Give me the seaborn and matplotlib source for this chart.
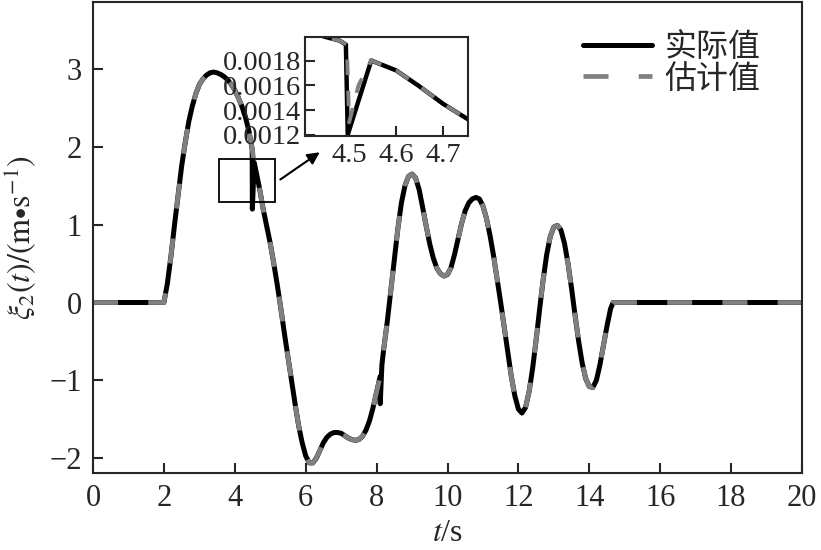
import matplotlib
matplotlib.use("Agg")
import matplotlib.pyplot as plt
import seaborn as sns
import pandas as pd
from matplotlib.patches import Rectangle

# estimated (smooth) curve
t_vals = [0, 2.0, 2.1, 2.2, 2.3, 2.4, 2.5, 2.6, 2.7, 2.8, 2.9, 3.0, 3.1, 3.2, 3.3, 3.4,
          3.5, 3.6, 3.7, 3.8, 3.9, 4.0, 4.1, 4.2, 4.3, 4.4, 4.49, 4.547, 4.6, 4.7, 4.75,
          4.8, 4.9, 5.0, 5.1, 5.2, 5.3, 5.4, 5.5, 5.6, 5.7, 5.8, 5.9, 6.0, 6.1, 6.2,
          6.3, 6.4, 6.5, 6.6, 6.7, 6.8, 6.9, 7.0, 7.1, 7.2, 7.3, 7.4, 7.5, 7.6, 7.7,
          7.8, 7.9, 8.0, 8.1, 8.2, 8.3, 8.4, 8.5, 8.6, 8.7, 8.8, 8.9, 9.0, 9.1, 9.2,
          9.3, 9.4, 9.5, 9.6, 9.7, 9.8, 9.9, 10.0, 10.1, 10.2, 10.3, 10.4, 10.5, 10.6,
          10.7, 10.8, 10.9, 11.0, 11.1, 11.2, 11.3, 11.4, 11.5, 11.6, 11.7, 11.8, 11.9,
          12.0, 12.1, 12.2, 12.3, 12.4, 12.5, 12.6, 12.7, 12.8, 12.9, 13.0, 13.1, 13.2,
          13.3, 13.4, 13.5, 13.6, 13.7, 13.8, 13.9, 14.0, 14.1, 14.2, 14.3, 14.4, 14.5,
          14.6, 14.67, 20.0]
est_vals = [0, 0, 0.25, 0.6, 1.0, 1.38, 1.75, 2.05, 2.32, 2.52, 2.68, 2.8, 2.87, 2.92, 2.95, 2.96,
            2.95, 2.93, 2.9, 2.86, 2.8, 2.73, 2.63, 2.52, 2.38, 2.2, 1.97, 1.8, 1.68, 1.46, 1.33,
            1.2, 0.98, 0.76, 0.5, 0.22, -0.08, -0.4, -0.7, -1.0, -1.3, -1.58, -1.8, -1.97, -2.06, -2.06,
            -2.0, -1.9, -1.8, -1.73, -1.69, -1.67, -1.67, -1.68, -1.71, -1.74, -1.76, -1.77, -1.76, -1.72, -1.64,
            -1.52, -1.35, -1.15, -0.95, -0.6, -0.25, 0.15, 0.55, 0.95, 1.28, 1.5, 1.62, 1.65, 1.6, 1.45,
            1.22, 0.98, 0.75, 0.57, 0.44, 0.37, 0.34, 0.36, 0.45, 0.62, 0.82, 1.02, 1.18, 1.28,
            1.33, 1.35, 1.33, 1.24, 1.08, 0.86, 0.6, 0.3, 0.0, -0.32, -0.64, -0.95, -1.2,
            -1.37, -1.42, -1.35, -1.15, -0.85, -0.48, -0.08, 0.3, 0.62, 0.85, 0.97, 0.99, 0.93,
            0.76, 0.5, 0.18, -0.17, -0.5, -0.78, -0.98, -1.08, -1.09, -1.0, -0.8, -0.55, -0.3,
            -0.08, 0.0, 0.0]

# extra points where the actual curve jumps
glitch_t = [4.495, 8.102, 8.15]
glitch_y = [1.20, -1.30, -0.80]

# zoomed inset values
inset_t = [4.40, 4.45, 4.48, 4.493, 4.497, 4.547, 4.6, 4.65, 4.7, 4.755]
inset_actual = [0.00205, 0.00199, 0.00196, 0.00193, 0.00120, 0.00180, 0.00172, 0.00159, 0.00145, 0.00132]
inset_est_t = [4.40, 4.45, 4.48, 4.495, 4.50, 4.52, 4.547, 4.6, 4.65, 4.7, 4.755]
inset_est = [0.00205, 0.00199, 0.00196, 0.00193, 0.00130, 0.00160, 0.00180, 0.00172, 0.00159, 0.00145, 0.00132]

sns.set_theme(style="ticks")
plt.rcParams["font.family"] = ["Liberation Serif", "Noto Sans CJK SC"]
plt.rcParams["mathtext.fontset"] = "stix"
plt.rcParams["axes.linewidth"] = 1.5

df_est = pd.DataFrame({"t": t_vals, "y": est_vals})
df_act = pd.concat([df_est, pd.DataFrame({"t": glitch_t, "y": glitch_y})]).sort_values("t")

fig = plt.figure(figsize=(8.21, 5.5), dpi=100)
ax = fig.add_axes([93 / 821, 1 - 473 / 550, 709 / 821, 471 / 550])

dash = (5.3, 6.4)
sns.lineplot(data=df_act, x="t", y="y", ax=ax, color="black", lw=3.6, estimator=None,
             label="实际值")
sns.lineplot(data=df_est, x="t", y="y", ax=ax, color="#808080", lw=3.4, estimator=None,
             label="估计值")
ax.lines[1].set_dashes(dash)

ax.set_xlim(0, 20)
ax.set_ylim(-2.19, 3.86)
ax.set_xticks(range(0, 21, 2))
ax.set_yticks([-2, -1, 0, 1, 2, 3])
ax.set_yticklabels(["\u22122", "\u22121", "0", "1", "2", "3"])
ax.tick_params(direction="in", length=7, width=1.5, labelsize=22, pad=8)
ax.set_xlabel("$t$/s", fontsize=23, labelpad=4)
ax.set_ylabel(r"$\xi_2(t)/(\mathrm{m{\bullet}s}^{-1})$", fontsize=23, labelpad=8)

leg = ax.legend(loc="upper left", bbox_to_anchor=(0.651, 0.995), frameon=False,
                fontsize=23, handlelength=2.15, handletextpad=0.4, labelspacing=0.05)
leg.get_lines()[0].set_linewidth(3.6)
leg.get_lines()[1].set_linewidth(3.4)
leg.get_lines()[1].set_dashes(dash)

# box showing zoomed region and arrow to inset
ax.add_patch(Rectangle((3.56, 1.29), 1.57, 0.55, fill=False, ec="black", lw=1.3, zorder=5))
ax.annotate("", xy=(6.46, 1.95), xytext=(5.22, 1.56),
            arrowprops=dict(arrowstyle="-|>", color="black", lw=1.5, mutation_scale=18))

# inset
axin = fig.add_axes([305 / 821, 1 - 136 / 550, 163 / 821, 99 / 550])
sns.lineplot(x=inset_t, y=inset_actual, ax=axin, color="black", lw=3.2, estimator=None, sort=False)
sns.lineplot(x=inset_est_t, y=inset_est, ax=axin, color="#808080", lw=2.8, estimator=None, sort=False)
axin.lines[1].set_dashes((4, 4))
axin.set_xlim(4.406, 4.753)
axin.set_ylim(0.00119, 0.00199)
axin.set_xticks([4.5, 4.6, 4.7])
axin.set_xticklabels(["4.5", "4.6", "4.7"])
axin.set_yticks([0.0012, 0.0014, 0.0016, 0.0018])
axin.set_yticklabels(["0.0012", "0.0014", "0.0016", "0.0018"])
axin.tick_params(direction="in", length=7, width=1.5, labelsize=20.5, pad=3)
axin.tick_params(axis="x", pad=5)
for s in axin.spines.values():
    s.set_linewidth(1.5)
axin.set_xlabel("")
axin.set_ylabel("")

fig.savefig("out.png", dpi=100)
